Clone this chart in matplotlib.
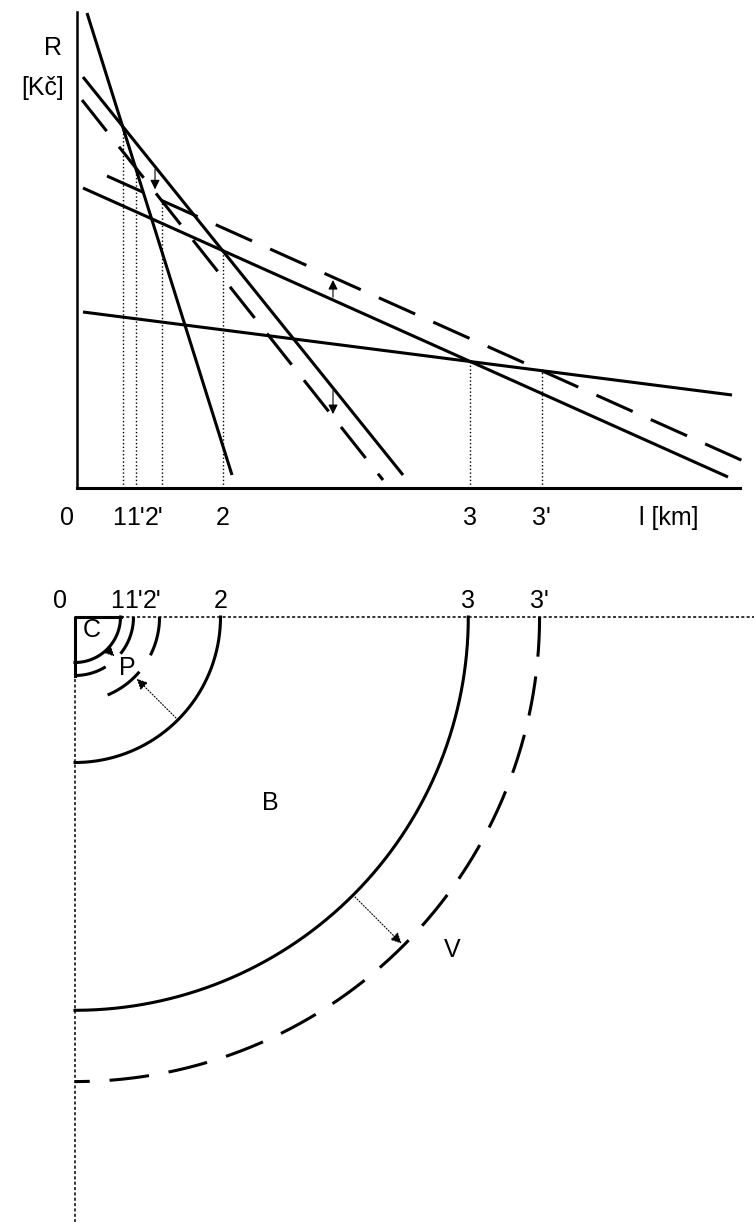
import numpy as np
from matplotlib import pyplot as plt

plt.rcParams["font.family"] = ["Liberation Sans", "DejaVu Sans"]

# bid-rent lines R(l): start point and end point
line_names = ["C", "P", "P'", "B", "B'", "V"]
start_l = [1.0, 0.6, 0.5, 0.6, 3.0, 0.6]
start_r = [47.5, 41.1, 38.8, 30.0, 31.2, 17.6]
end_l = [15.5, 32.6, 30.6, 65.1, 67.3, 65.5]
end_r = [1.3, 1.3, 0.8, 1.1, 2.4, 9.3]
is_dashed = [False, False, True, False, True, False]

# zone borders = where two bid-rent lines cross
border_labels = ["1", "1'", "2'", "2", "3", "3'"]
border_pairs = [("C", "P"), ("C", "P'"), ("P'", "B'"), ("P", "B"), ("B", "V"), ("B'", "V")]
border_dashed = [False, True, True, False, False, True]
border_arc_end = [90, 90, 71, 90, 90, 90]  # degrees of the quarter ring drawn
label_shift = [-0.3, -0.05, -0.75, 0.0, 0.0, 0.0]  # labels squeezed like in the print

# shift arrows in the R chart (from line, to line, at distance l)
shift_from = ["P", "P", "B"]
shift_to = ["P'", "P'", "B'"]
shift_at = [7.8, 25.6, 25.6]

zone_names = ["C", "P", "B", "V"]

LW = 2.2
DASH = (0, (13, 6.5))
FS = 18


def line_coef(name):
    i = line_names.index(name)
    k = (end_r[i] - start_r[i]) / (end_l[i] - start_l[i])
    return k, start_r[i] - k * start_l[i]


def crossing(a, b):
    ka, qa = line_coef(a)
    kb, qb = line_coef(b)
    x = (qb - qa) / (ka - kb)
    return x, ka * x + qa


borders = [crossing(a, b) for a, b in border_pairs]

fig = plt.figure(figsize=(7.54, 12.22), dpi=100)

# ---- top: bid-rent chart ----
ax = fig.add_axes([0, 1 - 540 / 1222, 1, 540 / 1222])
ax.set_xlim(-7.7, 67.7)
ax.set_ylim(-5.2, 48.8)
ax.axis("off")

ax.plot([0, 0], [0, 47.6], color="black", lw=1.8)
ax.plot([0, 66.3], [0, 0], color="black", lw=2.2)

for i in range(len(line_names)):
    ax.plot(
        [start_l[i], end_l[i]],
        [start_r[i], end_r[i]],
        color="black",
        lw=LW,
        linestyle=DASH if is_dashed[i] else "-",
        solid_capstyle="butt",
    )

for (bx, by), lab, dx in zip(borders, border_labels, label_shift):
    ax.plot([bx, bx], [0, by], color="black", lw=1.0, linestyle=":")
    ax.text(bx + dx, -3.0, lab, ha="center", va="center", fontsize=FS)

for f, t, x in zip(shift_from, shift_to, shift_at):
    kf, qf = line_coef(f)
    kt, qt = line_coef(t)
    ax.annotate(
        "",
        xy=(x, kt * x + qt),
        xytext=(x, kf * x + qf),
        arrowprops=dict(arrowstyle="-|>", color="black", lw=0.8, mutation_scale=14),
    )

ax.text(-1.0, -3.0, "0", ha="center", va="center", fontsize=FS)
ax.text(59.2, -3.0, "l [km]", ha="center", va="center", fontsize=FS)
ax.text(-1.5, 44.0, "R", ha="right", va="center", fontsize=FS)
ax.text(-1.3, 40.0, "[Kč]", ha="right", va="center", fontsize=FS)

# ---- bottom: land-use rings ----
bx_ax = fig.add_axes([0, 0, 1, 662 / 1222])
bx_ax.set_xlim(-7.5, 67.9)
bx_ax.set_ylim(-60.5, 5.7)
bx_ax.axis("off")

r1 = borders[0][0]
bx_ax.plot([r1, 67.9], [0, 0], color="black", lw=1.1, linestyle=(0, (2, 1.5)))
bx_ax.plot([0, 0], [-r1, -60.5], color="black", lw=1.1, linestyle=(0, (2, 1.5)))
bx_ax.plot([r1, 0, 0], [0, 0, -borders[1][0]], color="black", lw=LW)

for (r, _), lab, dsh, end, dx in zip(borders, border_labels, border_dashed,
                                     border_arc_end, label_shift):
    th = np.radians(np.linspace(0, -end, 200))
    bx_ax.plot(
        r * np.cos(th),
        r * np.sin(th),
        color="black",
        lw=LW,
        linestyle=DASH if dsh else "-",
    )
    bx_ax.text(r + dx, 1.6, lab, ha="center", va="center", fontsize=FS)

bx_ax.text(-1.5, 1.6, "0", ha="center", va="center", fontsize=FS)

# shift arrows between rings
ang = np.radians(-45)
for a, b in [(0, 1), (3, 2), (4, 5)]:
    ra, rb = borders[a][0], borders[b][0]
    bx_ax.annotate(
        "",
        xy=(rb * np.cos(ang), rb * np.sin(ang)),
        xytext=(ra * np.cos(ang), ra * np.sin(ang)),
        arrowprops=dict(arrowstyle="-|>", color="black", lw=0.8,
                        linestyle=":", mutation_scale=16),
    )

zone_x = [1.7, 5.2, 19.5, 37.7]
zone_y = [-1.3, -5.1, -18.6, -33.3]
for n, x, y in zip(zone_names, zone_x, zone_y):
    bx_ax.text(x, y, n, ha="center", va="center", fontsize=FS)

fig.savefig("out.png", dpi=100)
